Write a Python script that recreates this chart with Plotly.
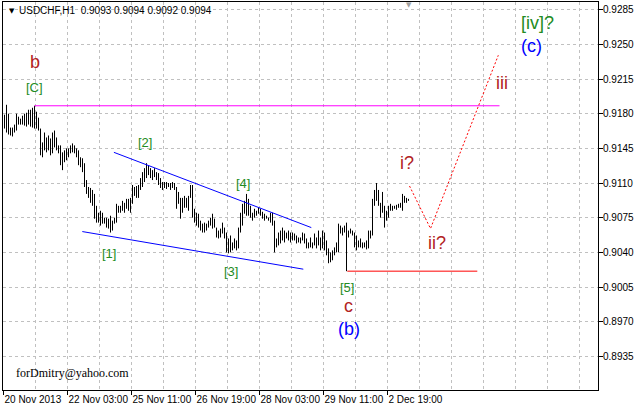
import plotly.graph_objects as go

# USDCHF H1, one value pair per bar (bar index 0 = first hour on the chart)
highs = [
    0.9179, 0.9189, 0.9180, 0.9166, 0.9166, 0.9169, 0.9180, 0.9177, 0.9175, 0.9178,
    0.9180, 0.9181, 0.9184, 0.9184, 0.9186, 0.9188, 0.9182, 0.9176, 0.9165, 0.9151,
    0.9161, 0.9156, 0.9158, 0.9155, 0.9161, 0.9163, 0.9156, 0.9148, 0.9148, 0.9141,
    0.9143, 0.9145, 0.9145, 0.9148, 0.9150, 0.9148, 0.9145, 0.9143, 0.9136, 0.9135,
    0.9130, 0.9113, 0.9106, 0.9105, 0.9103, 0.9099, 0.9087, 0.9080, 0.9082, 0.9080,
    0.9075, 0.9075, 0.9074, 0.9077, 0.9072, 0.9075, 0.9089, 0.9087, 0.9087, 0.9092,
    0.9090, 0.9094, 0.9094, 0.9095, 0.9108, 0.9106, 0.9107, 0.9108, 0.9115, 0.9121,
    0.9125, 0.9130, 0.9128, 0.9125, 0.9123, 0.9125, 0.9121, 0.9120, 0.9115, 0.9111,
    0.9111, 0.9111, 0.9110, 0.9110, 0.9111, 0.9110, 0.9106, 0.9101, 0.9095, 0.9095,
    0.9097, 0.9095, 0.9097, 0.9108, 0.9108, 0.9084, 0.9080, 0.9079, 0.9072, 0.9069,
    0.9070, 0.9069, 0.9072, 0.9075, 0.9079, 0.9074, 0.9065, 0.9062, 0.9064, 0.9070,
    0.9065, 0.9060, 0.9054, 0.9057, 0.9050, 0.9054, 0.9052, 0.9065, 0.9080, 0.9089,
    0.9092, 0.9099, 0.9094, 0.9087, 0.9080, 0.9084, 0.9082, 0.9085, 0.9084, 0.9081,
    0.9079, 0.9077, 0.9075, 0.9080, 0.9080, 0.9072, 0.9054, 0.9060, 0.9062, 0.9065,
    0.9062, 0.9060, 0.9062, 0.9060, 0.9060, 0.9059, 0.9057, 0.9055, 0.9055, 0.9060,
    0.9059, 0.9054, 0.9050, 0.9055, 0.9050, 0.9059, 0.9055, 0.9062, 0.9055, 0.9062,
    0.9060, 0.9052, 0.9044, 0.9040, 0.9042, 0.9045, 0.9050, 0.9069, 0.9067, 0.9065,
    0.9067, 0.9070, 0.9062, 0.9064, 0.9062, 0.9060, 0.9057, 0.9052, 0.9054, 0.9050,
    0.9050, 0.9052, 0.9062, 0.9062, 0.9094, 0.9103, 0.9110, 0.9103, 0.9090, 0.9101,
    0.9087, 0.9082, 0.9087, 0.9089, 0.9087, 0.9087, 0.9088, 0.9089, 0.9090, 0.9099,
    0.9097, 0.9095, 0.9094,
]
lows = [
    0.9165, 0.9161, 0.9159, 0.9158, 0.9157, 0.9161, 0.9163, 0.9169, 0.9169, 0.9169,
    0.9168, 0.9167, 0.9169, 0.9167, 0.9166, 0.9165, 0.9165, 0.9163, 0.9138, 0.9136,
    0.9143, 0.9141, 0.9143, 0.9138, 0.9140, 0.9146, 0.9143, 0.9140, 0.9128, 0.9123,
    0.9131, 0.9133, 0.9136, 0.9140, 0.9141, 0.9140, 0.9136, 0.9128, 0.9126, 0.9121,
    0.9106, 0.9099, 0.9095, 0.9090, 0.9087, 0.9074, 0.9070, 0.9070, 0.9067, 0.9069,
    0.9069, 0.9065, 0.9064, 0.9060, 0.9062, 0.9069, 0.9070, 0.9080, 0.9080, 0.9082,
    0.9080, 0.9084, 0.9082, 0.9080, 0.9089, 0.9097, 0.9095, 0.9095, 0.9103, 0.9106,
    0.9111, 0.9115, 0.9118, 0.9115, 0.9113, 0.9116, 0.9113, 0.9108, 0.9105, 0.9103,
    0.9105, 0.9104, 0.9106, 0.9103, 0.9105, 0.9103, 0.9084, 0.9089, 0.9074, 0.9080,
    0.9085, 0.9085, 0.9082, 0.9095, 0.9075, 0.9070, 0.9067, 0.9065, 0.9062, 0.9060,
    0.9060, 0.9062, 0.9065, 0.9067, 0.9064, 0.9065, 0.9055, 0.9054, 0.9055, 0.9059,
    0.9054, 0.9040, 0.9039, 0.9040, 0.9042, 0.9044, 0.9042, 0.9044, 0.9060, 0.9067,
    0.9079, 0.9077, 0.9077, 0.9075, 0.9072, 0.9075, 0.9077, 0.9079, 0.9077, 0.9074,
    0.9072, 0.9074, 0.9072, 0.9070, 0.9067, 0.9040, 0.9045, 0.9047, 0.9049, 0.9052,
    0.9050, 0.9054, 0.9052, 0.9050, 0.9052, 0.9052, 0.9049, 0.9050, 0.9049, 0.9052,
    0.9049, 0.9044, 0.9044, 0.9045, 0.9044, 0.9047, 0.9044, 0.9047, 0.9042, 0.9044,
    0.9042, 0.9037, 0.9029, 0.9030, 0.9032, 0.9037, 0.9040, 0.9040, 0.9059, 0.9057,
    0.9060, 0.9021, 0.9055, 0.9059, 0.9057, 0.9045, 0.9042, 0.9045, 0.9045, 0.9044,
    0.9045, 0.9043, 0.9044, 0.9054, 0.9057, 0.9087, 0.9092, 0.9087, 0.9075, 0.9080,
    0.9065, 0.9072, 0.9075, 0.9082, 0.9082, 0.9084, 0.9083, 0.9085, 0.9085, 0.9082,
    0.9090, 0.9090, 0.9092,
]

date_labels = ["20 Nov 2013", "22 Nov 03:00", "25 Nov 11:00", "26 Nov 19:00",
               "28 Nov 03:00", "29 Nov 11:00", "2 Dec 19:00"]
price_ticks = [0.8935, 0.8970, 0.9005, 0.9040, 0.9075, 0.9110, 0.9145,
               0.9180, 0.9215, 0.9250, 0.9285]

# analysis lines (bar index, price)
wave_b_level_x = [15, 247.5]
wave_b_level_y = [0.9188, 0.9188]
upper_wedge_x = [54.7, 153.4]
upper_wedge_y = [0.9141, 0.9065]
lower_wedge_x = [38.9, 149.4]
lower_wedge_y = [0.9061, 0.9023]
support_x = [171.4, 236.4]
support_y = [0.9021, 0.9021]
forecast_x = [202.5, 213, 246.9]
forecast_y = [0.9107, 0.9064, 0.9239]

BROWN = "#B22222"
GREEN = "#228B22"
BLUE = "#0000FF"

# wave labels: text, bar index, price, colour, font size
wave_labels = [
    ("b", 15, 0.9232, BROWN, 18),
    ("[C]", 14.8, 0.9206, GREEN, 13),
    ("[1]", 52.4, 0.9039, GREEN, 13),
    ("[2]", 70.3, 0.9151, GREEN, 13),
    ("[3]", 113, 0.9021, GREEN, 13),
    ("[4]", 119.3, 0.9110, GREEN, 13),
    ("[5]", 171, 0.9005, GREEN, 13),
    ("c", 172, 0.8986, BROWN, 18),
    ("(b)", 172.4, 0.8963, BLUE, 18),
    ("i?", 201, 0.9130, BROWN, 18),
    ("ii?", 216.3, 0.9049, BROWN, 18),
    ("iii", 248.5, 0.9211, BROWN, 18),
    ("[iv]?", 266.5, 0.9272, GREEN, 18),
    ("(c)", 263.7, 0.9248, BLUE, 18),
]

bars = list(range(len(highs)))

fig = go.Figure()
# only high-low bars are visible at this zoom, open/close ticks have zero width
fig.add_trace(go.Ohlc(x=bars, open=lows, high=highs, low=lows, close=highs,
                      tickwidth=0, line_width=1,
                      increasing_line_color="black", decreasing_line_color="black",
                      hoverinfo="skip"))

fig.add_trace(go.Scatter(x=wave_b_level_x, y=wave_b_level_y, mode="lines",
                         line=dict(color="#FF00FF", width=1)))
fig.add_trace(go.Scatter(x=upper_wedge_x, y=upper_wedge_y, mode="lines",
                         line=dict(color=BLUE, width=1)))
fig.add_trace(go.Scatter(x=lower_wedge_x, y=lower_wedge_y, mode="lines",
                         line=dict(color=BLUE, width=1)))
fig.add_trace(go.Scatter(x=support_x, y=support_y, mode="lines",
                         line=dict(color="#FF0000", width=1)))
fig.add_trace(go.Scatter(x=forecast_x, y=forecast_y, mode="lines",
                         line=dict(color="#FF0000", width=1, dash="2px,2px")))

for text, bx, price, color, size in wave_labels:
    fig.add_annotation(x=bx, y=price, text=text, showarrow=False,
                       font=dict(family="Liberation Sans", size=size, color=color),
                       xanchor="center", yanchor="middle")

# header and watermark
fig.add_annotation(xref="paper", yref="paper", x=0.006, y=0.977, text="▼",
                   showarrow=False, xanchor="left", yanchor="middle",
                   font=dict(family="DejaVu Sans", size=7, color="black"))
fig.add_annotation(xref="paper", yref="paper", x=0.024, y=0.977,
                   text="USDCHF,H1\u00a0\u00a00.9093 0.9094 0.9092 0.9094",
                   showarrow=False, xanchor="left", yanchor="middle",
                   font=dict(family="Liberation Sans", size=10, color="black"))
fig.add_annotation(xref="paper", yref="paper", x=0.682, y=0.992, text="▼",
                   showarrow=False, xanchor="center", yanchor="middle",
                   font=dict(family="DejaVu Sans", size=7, color="#A0A0A0"))
fig.add_annotation(xref="paper", yref="paper", x=0.019, y=0.044,
                   text="forDmitry@yahoo.com", showarrow=False,
                   xanchor="left", yanchor="middle",
                   font=dict(family="Liberation Serif", size=12, color="black"))

grid = dict(gridcolor="#C0C0C0", griddash="3px,3px", gridwidth=1)

fig.update_layout(
    width=635, height=408,
    margin=dict(l=3, r=37, t=2, b=18, autoexpand=False),
    paper_bgcolor="white", plot_bgcolor="white",
    showlegend=False,
    font=dict(family="Liberation Sans", size=10, color="black"),
    xaxis=dict(
        range=[-0.75, 296.75],
        rangeslider=dict(visible=False),
        automargin=False,
        tickmode="array",
        tickvals=[32 * k - 0.5 for k in range(len(date_labels))],
        ticktext=date_labels,
        tickangle=0,
        ticks="outside", ticklen=4, tickcolor="black",
        ticklabelposition="outside right",
        showline=True, mirror=True, linecolor="black", linewidth=1,
        showgrid=True, zeroline=False,
        minor=dict(tickmode="array", tickvals=[16 * k - 0.5 for k in range(1, 19)],
                   showgrid=True, ticks="", **grid),
        **grid,
    ),
    yaxis=dict(
        range=[0.8901, 0.92928],
        side="right",
        automargin=False,
        tickmode="array",
        tickvals=price_ticks,
        ticktext=["%.4f" % p for p in price_ticks],
        ticks="outside", ticklen=4, tickcolor="black",
        ticklabelstandoff=-2,
        showline=True, mirror=True, linecolor="black", linewidth=1,
        showgrid=True, zeroline=False,
        **grid,
    ),
)

# the page body has a default 8px margin; drop it so the chart fills the window
fig.write_html("out.html", config={"displayModeBar": False},
               post_script="document.body.style.margin='0px';")
